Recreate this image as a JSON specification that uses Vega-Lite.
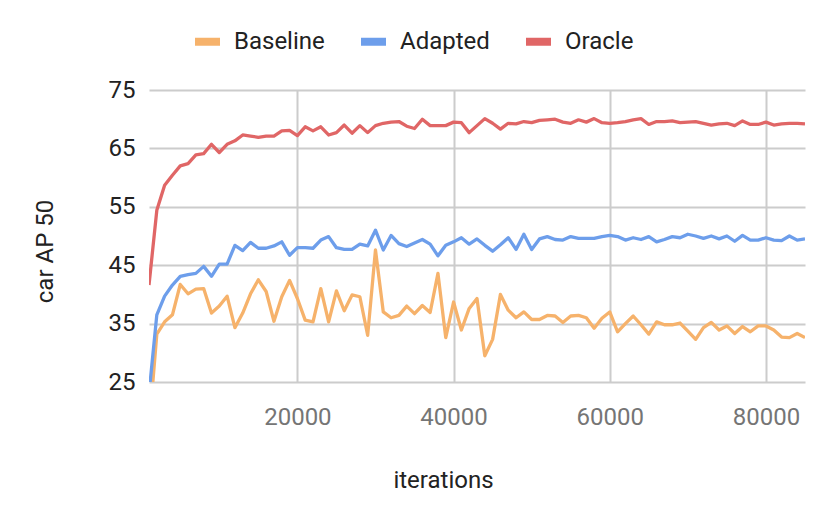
{
  "$schema": "https://vega.github.io/schema/vega-lite/v6.json",
  "width": 656,
  "height": 292,
  "autosize": {"type": "none"},
  "padding": {"left": 149, "top": 90, "right": 25, "bottom": 131},
  "background": "white",
  "config": {
    "view": {"stroke": null},
    "font": "Roboto",
    "axis": {"domain": false, "ticks": false, "grid": true, "gridColor": "#cccccc", "gridWidth": 2, "labelFont": "Roboto", "titleFont": "Roboto", "titleFontWeight": "normal", "labelFontSize": 24, "titleFontSize": 24}
  },
  "data": {
    "values": [
      {"iter": 1000, "Baseline": 17, "Adapted": 23, "Oracle": 41.6},
      {"iter": 2000, "Baseline": 33.2, "Adapted": 36.5, "Oracle": 54.4},
      {"iter": 3000, "Baseline": 35.3, "Adapted": 39.7, "Oracle": 58.7},
      {"iter": 4000, "Baseline": 36.5, "Adapted": 41.6, "Oracle": 60.4},
      {"iter": 5000, "Baseline": 41.7, "Adapted": 43.1, "Oracle": 62.0},
      {"iter": 6000, "Baseline": 40.1, "Adapted": 43.4, "Oracle": 62.4},
      {"iter": 7000, "Baseline": 40.9, "Adapted": 43.6, "Oracle": 63.9},
      {"iter": 8000, "Baseline": 41.0, "Adapted": 44.8, "Oracle": 64.1},
      {"iter": 9000, "Baseline": 36.8, "Adapted": 43.1, "Oracle": 65.7},
      {"iter": 10000, "Baseline": 38.0, "Adapted": 45.2, "Oracle": 64.3},
      {"iter": 11000, "Baseline": 39.7, "Adapted": 45.2, "Oracle": 65.7},
      {"iter": 12000, "Baseline": 34.3, "Adapted": 48.4, "Oracle": 66.3},
      {"iter": 13000, "Baseline": 36.8, "Adapted": 47.5, "Oracle": 67.3},
      {"iter": 14000, "Baseline": 40.1, "Adapted": 48.9, "Oracle": 67.1},
      {"iter": 15000, "Baseline": 42.5, "Adapted": 47.9, "Oracle": 66.9},
      {"iter": 16000, "Baseline": 40.5, "Adapted": 47.9, "Oracle": 67.1},
      {"iter": 17000, "Baseline": 35.4, "Adapted": 48.3, "Oracle": 67.1},
      {"iter": 18000, "Baseline": 39.6, "Adapted": 49.0, "Oracle": 68.0},
      {"iter": 19000, "Baseline": 42.4, "Adapted": 46.7, "Oracle": 68.1},
      {"iter": 20000, "Baseline": 39.3, "Adapted": 48.0, "Oracle": 67.2},
      {"iter": 21000, "Baseline": 35.6, "Adapted": 48.0, "Oracle": 68.7},
      {"iter": 22000, "Baseline": 35.3, "Adapted": 47.9, "Oracle": 68.0},
      {"iter": 23000, "Baseline": 41.0, "Adapted": 49.3, "Oracle": 68.7},
      {"iter": 24000, "Baseline": 35.3, "Adapted": 49.9, "Oracle": 67.3},
      {"iter": 25000, "Baseline": 40.6, "Adapted": 48.0, "Oracle": 67.7},
      {"iter": 26000, "Baseline": 37.2, "Adapted": 47.7, "Oracle": 69.0},
      {"iter": 27000, "Baseline": 39.9, "Adapted": 47.7, "Oracle": 67.6},
      {"iter": 28000, "Baseline": 39.6, "Adapted": 48.6, "Oracle": 68.9},
      {"iter": 29000, "Baseline": 33.0, "Adapted": 48.3, "Oracle": 67.7},
      {"iter": 30000, "Baseline": 47.6, "Adapted": 51.0, "Oracle": 68.9},
      {"iter": 31000, "Baseline": 37.0, "Adapted": 47.6, "Oracle": 69.3},
      {"iter": 32000, "Baseline": 36.0, "Adapted": 50.1, "Oracle": 69.5},
      {"iter": 33000, "Baseline": 36.4, "Adapted": 48.7, "Oracle": 69.6},
      {"iter": 34000, "Baseline": 38.0, "Adapted": 48.2, "Oracle": 68.8},
      {"iter": 35000, "Baseline": 36.7, "Adapted": 48.8, "Oracle": 68.4},
      {"iter": 36000, "Baseline": 38.1, "Adapted": 49.4, "Oracle": 70.0},
      {"iter": 37000, "Baseline": 36.9, "Adapted": 48.6, "Oracle": 68.9},
      {"iter": 38000, "Baseline": 43.6, "Adapted": 46.6, "Oracle": 68.9},
      {"iter": 39000, "Baseline": 32.6, "Adapted": 48.4, "Oracle": 68.9},
      {"iter": 40000, "Baseline": 38.7, "Adapted": 49.0, "Oracle": 69.5},
      {"iter": 41000, "Baseline": 33.9, "Adapted": 49.7, "Oracle": 69.4},
      {"iter": 42000, "Baseline": 37.6, "Adapted": 48.6, "Oracle": 67.7},
      {"iter": 43000, "Baseline": 39.3, "Adapted": 49.5, "Oracle": 68.9},
      {"iter": 44000, "Baseline": 29.5, "Adapted": 48.4, "Oracle": 70.1},
      {"iter": 45000, "Baseline": 32.3, "Adapted": 47.4, "Oracle": 69.3},
      {"iter": 46000, "Baseline": 40.0, "Adapted": 48.5, "Oracle": 68.3},
      {"iter": 47000, "Baseline": 37.3, "Adapted": 49.7, "Oracle": 69.3},
      {"iter": 48000, "Baseline": 36.0, "Adapted": 47.7, "Oracle": 69.2},
      {"iter": 49000, "Baseline": 37.0, "Adapted": 50.3, "Oracle": 69.6},
      {"iter": 50000, "Baseline": 35.7, "Adapted": 47.7, "Oracle": 69.4},
      {"iter": 51000, "Baseline": 35.7, "Adapted": 49.5, "Oracle": 69.8},
      {"iter": 52000, "Baseline": 36.4, "Adapted": 49.9, "Oracle": 69.9},
      {"iter": 53000, "Baseline": 36.3, "Adapted": 49.4, "Oracle": 70.0},
      {"iter": 54000, "Baseline": 35.2, "Adapted": 49.3, "Oracle": 69.5},
      {"iter": 55000, "Baseline": 36.3, "Adapted": 49.9, "Oracle": 69.3},
      {"iter": 56000, "Baseline": 36.4, "Adapted": 49.6, "Oracle": 69.9},
      {"iter": 57000, "Baseline": 36.0, "Adapted": 49.6, "Oracle": 69.5},
      {"iter": 58000, "Baseline": 34.2, "Adapted": 49.6, "Oracle": 70.1},
      {"iter": 59000, "Baseline": 35.9, "Adapted": 49.9, "Oracle": 69.4},
      {"iter": 60000, "Baseline": 37.0, "Adapted": 50.1, "Oracle": 69.3},
      {"iter": 61000, "Baseline": 33.6, "Adapted": 49.9, "Oracle": 69.4},
      {"iter": 62000, "Baseline": 35.0, "Adapted": 49.3, "Oracle": 69.6},
      {"iter": 63000, "Baseline": 36.3, "Adapted": 49.7, "Oracle": 69.9},
      {"iter": 64000, "Baseline": 34.8, "Adapted": 49.4, "Oracle": 70.1},
      {"iter": 65000, "Baseline": 33.2, "Adapted": 49.9, "Oracle": 69.1},
      {"iter": 66000, "Baseline": 35.3, "Adapted": 49.0, "Oracle": 69.6},
      {"iter": 67000, "Baseline": 34.8, "Adapted": 49.4, "Oracle": 69.6},
      {"iter": 68000, "Baseline": 34.8, "Adapted": 49.9, "Oracle": 69.7},
      {"iter": 69000, "Baseline": 35.1, "Adapted": 49.7, "Oracle": 69.4},
      {"iter": 70000, "Baseline": 33.7, "Adapted": 50.3, "Oracle": 69.5},
      {"iter": 71000, "Baseline": 32.3, "Adapted": 50.0, "Oracle": 69.6},
      {"iter": 72000, "Baseline": 34.3, "Adapted": 49.6, "Oracle": 69.3},
      {"iter": 73000, "Baseline": 35.2, "Adapted": 50.0, "Oracle": 69.0},
      {"iter": 74000, "Baseline": 33.9, "Adapted": 49.5, "Oracle": 69.2},
      {"iter": 75000, "Baseline": 34.6, "Adapted": 50.0, "Oracle": 69.3},
      {"iter": 76000, "Baseline": 33.3, "Adapted": 49.1, "Oracle": 68.9},
      {"iter": 77000, "Baseline": 34.5, "Adapted": 50.1, "Oracle": 69.7},
      {"iter": 78000, "Baseline": 33.6, "Adapted": 49.3, "Oracle": 69.1},
      {"iter": 79000, "Baseline": 34.6, "Adapted": 49.3, "Oracle": 69.1},
      {"iter": 80000, "Baseline": 34.6, "Adapted": 49.7, "Oracle": 69.5},
      {"iter": 81000, "Baseline": 33.9, "Adapted": 49.3, "Oracle": 69.0},
      {"iter": 82000, "Baseline": 32.7, "Adapted": 49.2, "Oracle": 69.2},
      {"iter": 83000, "Baseline": 32.6, "Adapted": 50.0, "Oracle": 69.3},
      {"iter": 84000, "Baseline": 33.3, "Adapted": 49.3, "Oracle": 69.3},
      {"iter": 85000, "Baseline": 32.6, "Adapted": 49.5, "Oracle": 69.2}
    ]
  },
  "transform": [{"fold": ["Baseline", "Adapted", "Oracle"], "as": ["series", "ap"]}],
  "mark": {"type": "line", "strokeWidth": 3.3, "clip": true, "strokeJoin": "round"},
  "encoding": {
    "x": {
      "field": "iter", "type": "quantitative",
      "scale": {"domain": [1000, 85000], "nice": false, "zero": false},
      "axis": {"values": [20000, 40000, 60000, 80000], "format": "d", "labelColor": "#757575", "labelPadding": 23, "title": "iterations", "titleColor": "#222222", "titleBaseline": "alphabetic", "titleY": 105, "titleX": 294, "titleAlign": "center"}
    },
    "y": {
      "field": "ap", "type": "quantitative",
      "scale": {"domain": [25, 75], "nice": false, "zero": false},
      "axis": {"values": [25, 35, 45, 55, 65, 75], "labelColor": "#222222", "labelPadding": 14, "title": "car AP 50", "titleColor": "#222222", "titleAngle": 270, "titleX": -104, "titleY": 161, "titleAlign": "center", "titleBaseline": "middle"}
    },
    "color": {
      "field": "series", "type": "nominal",
      "scale": {"domain": ["Baseline", "Adapted", "Oracle"], "range": ["#f6b26b", "#6d9eeb", "#e06666"]},
      "legend": {"title": null, "orient": "none", "direction": "horizontal", "legendX": 42, "legendY": -65, "symbolType": "stroke", "symbolStrokeWidth": 8, "symbolSize": 625, "labelFontSize": 24, "labelFont": "Roboto", "labelColor": "#222222", "labelOffset": 10, "columnPadding": 20}
    }
  }
}
